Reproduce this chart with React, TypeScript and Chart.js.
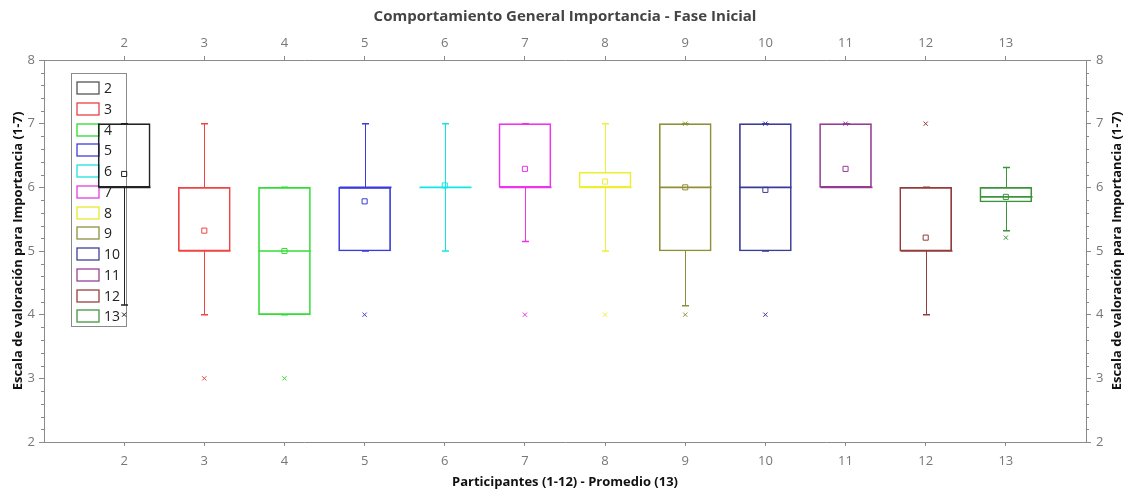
import React, { useEffect, useRef } from 'react';
import { Chart, registerables } from 'chart.js';

Chart.register(...registerables);

// ---------- data ----------
const categories = [2, 3, 4, 5, 6, 7, 8, 9, 10, 11, 12, 13];
const q1 = [6, 5, 4, 5, 6, 6, 6, 5, 5, 6, 5, 5.77];
const medians = [6, 5, 5, 6, 6, 6, 6, 6, 6, 6, 5, 5.85];
const q3 = [7, 6, 6, 6, 6, 7, 6.24, 7, 7, 7, 6, 6.0];
const whiskerLow = [4.15, 4, 4, 5, 5, 5.15, 5, 4.14, 5, 6, 4, 5.32];
const whiskerHigh = [7, 7, 6, 7, 7, 7, 7, 7, 7, 7, 6, 6.31];
const means = [6.21, 5.32, 5.0, 5.78, 6.03, 6.29, 6.09, 6.0, 5.96, 6.29, 5.21, 5.85];
const outlierCats = [2, 3, 4, 5, 7, 8, 9, 9, 10, 10, 11, 12, 13];
const outlierVals = [4, 3, 3, 4, 4, 4, 4, 7, 7, 4, 7, 7, 5.21];
const colors = [
  '#222222', '#f04444', '#33dd33', '#3b3bdd', '#11e6e6', '#ee33ee',
  '#eeee33', '#8f8f38', '#3b3b99', '#943b94', '#943b3b', '#3b943b',
];
const legendColors = [
  '#555555', '#f04040', '#30d830', '#4040d8', '#20e0e0', '#e040e0',
  '#e8e830', '#909040', '#404098', '#984098', '#984040', '#409840',
];
const yMajorTicks = [2, 3, 4, 5, 6, 7, 8];
const yMinorStep = 0.2;

const chartTitle = 'Comportamiento General Importancia - Fase Inicial';
const xTitle = 'Participantes (1-12) - Promedio (13)';
const yTitle = 'Escala de valoración para Importancia (1-7)';

const FONT = "'Open Sans', 'Noto Sans', sans-serif";
const BOX_PX = 52;
const CAP_PX = 7;

const boxPlugin = {
  id: 'boxLines',
  beforeDatasetsDraw(chart: any) {
    const { ctx } = chart;
    ctx.save();
    // legend
    const L = { left: 71.5, top: 73.5, w: 55, h: 253 };
    ctx.fillStyle = '#ffffff';
    ctx.fillRect(L.left, L.top, L.w, L.h);
    ctx.strokeStyle = '#8a8a8a';
    ctx.lineWidth = 1;
    ctx.strokeRect(L.left, L.top, L.w, L.h);
    ctx.font = `14px ${FONT}`;
    ctx.textBaseline = 'middle';
    ctx.textAlign = 'left';
    categories.forEach((c, i) => {
      const cy = Math.round(88 + i * 20.75);
      ctx.strokeStyle = legendColors[i];
      ctx.lineWidth = 1.3;
      ctx.strokeRect(77, cy - 6, 22, 12);
      ctx.fillStyle = '#222222';
      ctx.fillText(String(c), 104, cy + 1);
    });
    ctx.restore();
  },
  afterDatasetsDraw(chart: any) {
    const { ctx } = chart;
    const x = chart.scales.x;
    const y = chart.scales.y;
    ctx.save();
    categories.forEach((c, i) => {
      const px = Math.round(x.getPixelForValue(c)) + 0.5;
      ctx.strokeStyle = colors[i];
      ctx.lineWidth = 1;
      // whiskers
      const yq1 = y.getPixelForValue(q1[i]);
      const yq3 = y.getPixelForValue(q3[i]);
      const ylo = y.getPixelForValue(whiskerLow[i]);
      const yhi = y.getPixelForValue(whiskerHigh[i]);
      ctx.beginPath();
      ctx.moveTo(px, yq3);
      ctx.lineTo(px, yhi);
      ctx.moveTo(px, yq1);
      ctx.lineTo(px, ylo);
      ctx.stroke();
      // caps
      ctx.lineWidth = 1.5;
      ctx.beginPath();
      ctx.moveTo(px - CAP_PX / 2, yhi);
      ctx.lineTo(px + CAP_PX / 2, yhi);
      ctx.moveTo(px - CAP_PX / 2, ylo);
      ctx.lineTo(px + CAP_PX / 2, ylo);
      ctx.stroke();
      // median
      const ym = y.getPixelForValue(medians[i]);
      ctx.lineWidth = 1.6;
      ctx.beginPath();
      ctx.moveTo(px - BOX_PX / 2, ym);
      ctx.lineTo(px + BOX_PX / 2, ym);
      ctx.stroke();
    });
    ctx.restore();
  },
  afterDraw(chart: any) {
    const { ctx, chartArea } = chart;
    const y = chart.scales.y;
    ctx.save();
    // minor ticks
    ctx.strokeStyle = '#8a8a8a';
    ctx.lineWidth = 1;
    ctx.beginPath();
    for (let k = 0; k < (8 - 2) / yMinorStep; k++) {
      const v = 2 + k * yMinorStep;
      if (Math.abs(v - Math.round(v)) < 1e-6) continue;
      const py = Math.round(y.getPixelForValue(v)) + 0.5;
      ctx.moveTo(chartArea.left - 3, py);
      ctx.lineTo(chartArea.left, py);
      ctx.moveTo(chartArea.right, py);
      ctx.lineTo(chartArea.right + 3, py);
    }
    ctx.stroke();
    // right axis title (reads bottom to top)
    ctx.translate(1117, (chartArea.top + chartArea.bottom) / 2);
    ctx.rotate(-Math.PI / 2);
    ctx.font = `bold 13px ${FONT}`;
    ctx.fillStyle = '#111111';
    ctx.textAlign = 'center';
    ctx.textBaseline = 'middle';
    ctx.fillText(yTitle, 0, 0);
    ctx.restore();
  },
};

export default function App() {
  const ref = useRef<HTMLCanvasElement | null>(null);
  useEffect(() => {
    document.body.style.margin = '0';
    if (!ref.current) return;
    Chart.defaults.font.family = FONT;
    const tickFont = { size: 13 };
    const xCommon = {
      type: 'linear' as const,
      min: 1,
      max: 14,
      offset: false,
      afterBuildTicks: (s: any) => {
        s.ticks = categories.map((v) => ({ value: v }));
      },
      grid: { drawOnChartArea: false, tickLength: 4, color: '#8a8a8a', offset: false },
      border: { color: '#8a8a8a' },
    };
    const yCommon = {
      type: 'linear' as const,
      min: 2,
      max: 8,
      afterBuildTicks: (s: any) => {
        s.ticks = yMajorTicks.map((v) => ({ value: v }));
      },
      grid: { drawOnChartArea: false, tickLength: 5, color: '#8a8a8a' },
      border: { color: '#8a8a8a' },
    };
    const chart = new Chart(ref.current, {
      type: 'bar',
      data: {
        datasets: [
          {
            type: 'bar',
            data: categories.map((c, i) => ({ x: c, y: [q1[i], q3[i]] })) as any,
            backgroundColor: 'rgba(0,0,0,0)',
            borderColor: colors,
            borderWidth: 1,
            borderSkipped: false,
            barThickness: BOX_PX,
            xAxisID: 'x',
            yAxisID: 'y',
          } as any,
          {
            type: 'scatter',
            data: means.map((m, i) => ({ x: categories[i], y: m })),
            pointStyle: 'rect',
            pointRadius: 3.6,
            pointBorderWidth: 1,
            pointBorderColor: colors,
            pointBackgroundColor: 'rgba(0,0,0,0)',
            showLine: false,
            xAxisID: 'x',
            yAxisID: 'y',
          } as any,
          {
            type: 'scatter',
            data: outlierVals.map((v, i) => ({ x: outlierCats[i], y: v })),
            pointStyle: 'crossRot',
            pointRadius: 3,
            pointBorderWidth: 1,
            pointBorderColor: outlierCats.map((c) => colors[categories.indexOf(c)]),
            pointBackgroundColor: 'rgba(0,0,0,0)',
            showLine: false,
            xAxisID: 'x',
            yAxisID: 'y',
          } as any,
        ],
      },
      options: {
        animation: false,
        responsive: false,
        devicePixelRatio: 1,
        layout: { padding: 0 },
        plugins: {
          legend: { display: false },
          tooltip: { enabled: false },
          title: { display: false },
        },
        scales: {
          x: {
            ...xCommon,
            position: 'bottom',
            ticks: { color: '#777777', font: tickFont, padding: 7 },
            title: {
              display: true,
              text: xTitle,
              color: '#111111',
              font: { size: 13, weight: 'bold' },
              padding: { top: 0, bottom: 2 },
            },
            afterFit: (s: any) => {
              s.height = 50;
            },
          },
          x2: {
            ...xCommon,
            position: 'top',
            ticks: { color: '#777777', font: tickFont, padding: 5 },
            title: {
              display: true,
              text: chartTitle,
              color: '#444444',
              font: { size: 15, weight: 'bold' },
              padding: { top: 8, bottom: 0 },
            },
            afterFit: (s: any) => {
              s.height = 60;
            },
          },
          y: {
            ...yCommon,
            position: 'left',
            ticks: { color: '#777777', font: tickFont, padding: 4 },
            title: {
              display: true,
              text: yTitle,
              color: '#111111',
              font: { size: 13, weight: 'bold' },
              padding: { top: 10, bottom: 0 },
            },
            afterFit: (s: any) => {
              s.width = 44;
            },
          },
          y2: {
            ...yCommon,
            position: 'right',
            ticks: { color: '#777777', font: tickFont, padding: 5 },
            title: { display: false },
            afterFit: (s: any) => {
              s.width = 50;
            },
          },
        } as any,
      },
      plugins: [boxPlugin],
    } as any);
    return () => chart.destroy();
  }, []);
  return (
    <div style={{ width: 1136, height: 492 }}>
      <canvas ref={ref} width={1136} height={492} style={{ display: 'block' }} />
    </div>
  );
}
